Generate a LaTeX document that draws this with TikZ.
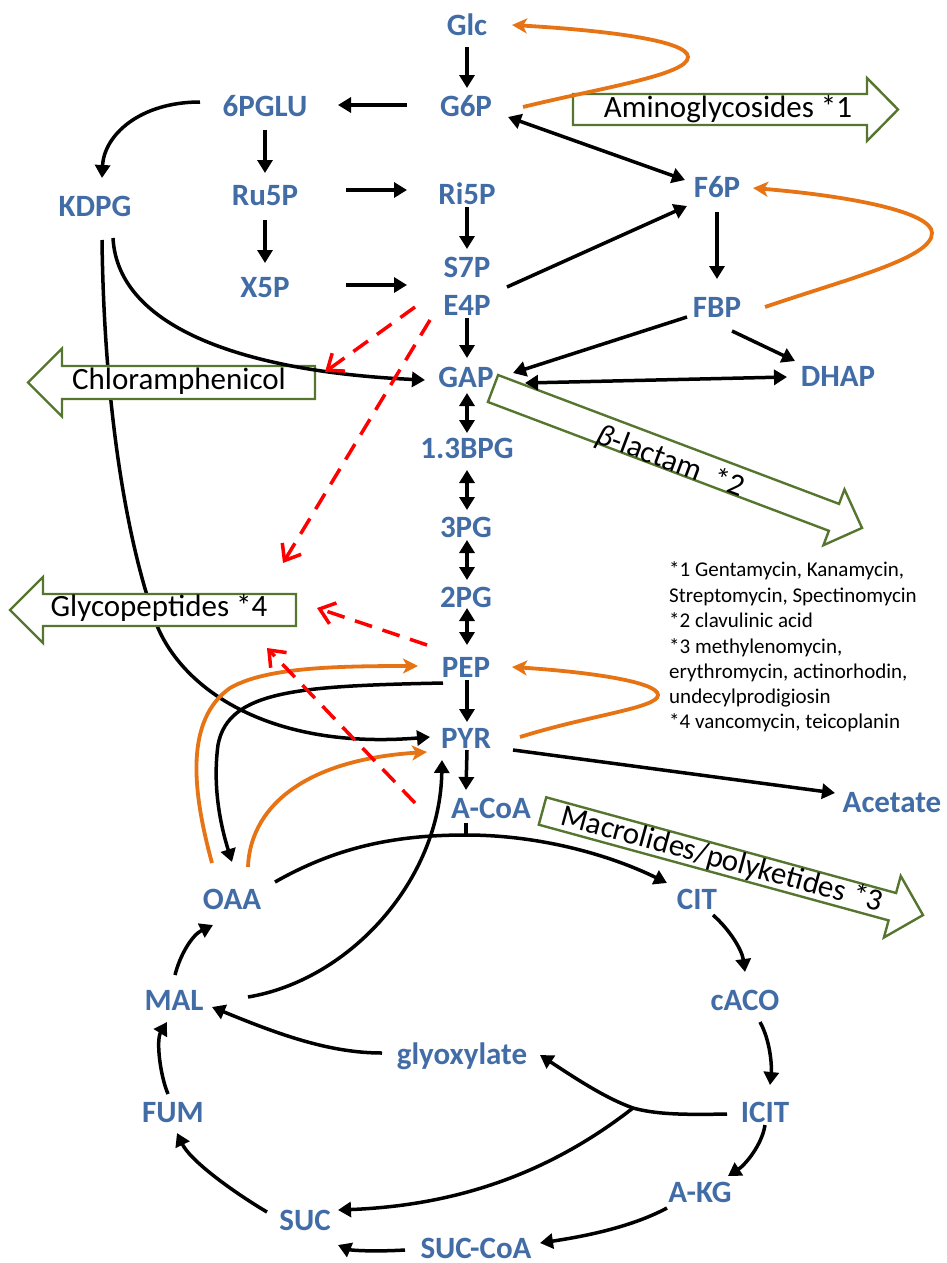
\documentclass[tikz,border=0pt]{standalone}
\usepackage{fontspec}
\setmainfont{Carlito}
\usetikzlibrary{arrows.meta}
\definecolor{mblue}{RGB}{66,108,165}
\definecolor{morange}{RGB}{230,115,20}
\definecolor{mgreen}{RGB}{86,118,48}
\tikzset{
 met/.style={text=mblue, font=\fontsize{31}{31}\selectfont\bfseries, inner sep=0pt, text height=20pt, text depth=0pt},
 conn/.style={line width=3.5pt, -{Triangle[length=13pt,width=15pt]}},
 bconn/.style={line width=3.5pt, {Triangle[length=13pt,width=15pt]}-{Triangle[length=13pt,width=15pt]}},
 plain/.style={line width=3.5pt},
 oconn/.style={line width=3.8pt, draw=morange, -{Stealth[length=15pt,width=15pt,inset=4pt]}},
 rconn/.style={line width=3.5pt, draw=red, dash pattern=on 18pt off 11pt, -{Straight Barb[length=14pt,width=22pt]}},
 boxtxt/.style={font=\fontsize{31}{31}\selectfont, inner sep=0pt},
 fnote/.style={font=\fontsize{21}{25}\selectfont, inner sep=0pt, anchor=base west},
 blk/.style={draw=mgreen, line width=2.4pt, fill=white, line join=miter},
}
\newcommand\blockarrow[7]{%
 \begin{scope}[shift={(#1,#2)},rotate=#3]
   \draw[blk] (0,-#5) -- (#4-#7,-#5) -- (#4-#7,-#6) -- (#4,0) -- (#4-#7,#6) -- (#4-#7,#5) -- (0,#5) -- cycle;
 \end{scope}}
\begin{document}
\begin{tikzpicture}[x=1pt,y=-1pt]
\useasboundingbox (0,0) rectangle (947,1263);
% metabolites
\node[met] (Glc) at (467,26) {Glc};
\node[met] (G6P) at (466,106) {G6P};
\node[met] (PGLU) at (265,106) {6PGLU};
\node[met] (KDPG) at (95,206) {KDPG};
\node[met] (Ru5P) at (265,195) {Ru5P};
\node[met] (Ri5P) at (467,194) {Ri5P};
\node[met] (X5P) at (265,287) {X5P};
\node[met] (S7P) at (467,267) {S7P};
\node[met] (E4P) at (467,305) {E4P};
\node[met] (F6P) at (717,187) {F6P};
\node[met] (FBP) at (717,307) {FBP};
\node[met] (GAP) at (466,377) {GAP};
\node[met] (DHAP) at (838,376) {DHAP};
\node[met] (BPG) at (467,448) {1.3BPG};
\node[met] (PGt) at (466,527) {3PG};
\node[met] (PGd) at (466,597) {2PG};
\node[met] (PEP) at (466,667) {PEP};
\node[met] (PYR) at (466,738) {PYR};
\node[met] (ACoA) at (491,808) {A-CoA};
\node[met] (Acetate) at (892,802) {Acetate};
\node[met] (OAA) at (232,899) {OAA};
\node[met] (CIT) at (697,899) {CIT};
\node[met] (cACO) at (745,1000) {cACO};
\node[met] (MAL) at (174,1000) {MAL};
\node[met] (GLX) at (462,1054) {glyoxylate};
\node[met] (ICIT) at (765,1112) {ICIT};
\node[met] (FUM) at (173,1112) {FUM};
\node[met] (AKG) at (700,1192) {A-KG};
\node[met] (SUC) at (305,1220) {SUC};
\node[met] (SUCCoA) at (476,1248) {SUC-CoA};
% helper coordinates
\coordinate (k1) at (158,628);
\coordinate (p1) at (218,745);
\coordinate (o1) at (230,688);
\coordinate (J) at (466,835);
\coordinate (K) at (633,1108);
\coordinate (g1) at (688,57);
\coordinate (f1) at (932,233);
\coordinate (y1) at (658,695);
\coordinate (r1) at (325,372);
\coordinate (r2) at (283,563);
\coordinate (r3) at (317,608);
\coordinate (r4) at (267,648);
% connector passing behind the boxes
\draw[conn] ([shift={(7,34)}]KDPG.center) .. controls (104,400) and (125,540) .. (k1) .. controls (185,690) and (270,750) .. ([shift={(-36,-1)}]PYR.center);
% block arrows
\blockarrow{573}{109.5}{0}{325}{15.5}{31.5}{31}
\blockarrow{315}{382.5}{180}{287}{16.5}{34}{34}
\blockarrow{296}{610}{180}{286}{16}{33}{33}
\blockarrow{493}{388.5}{-20.7}{394.5}{14.4}{29.8}{30}
\blockarrow{542.5}{811}{-15.3}{394.5}{14.2}{31.9}{31.8}
\node[boxtxt] (tAmino) at (728,109.5) {Aminoglycosides *1};
\node[boxtxt] (tChlor) at (179,381) {Chloramphenicol};
\node[boxtxt] (tGlyco) at (159,607.5) {Glycopeptides *4};
\node[boxtxt, rotate=-20.7] (tBeta) at (670,462) {{\itshape β}-lactam\ \ *2};
\node[boxtxt, rotate=-15.3] (tMacro) at (722,860) {Macrolides/polyketides *3};
% footnotes
\node[fnote] (fn1) at (669,576) {*1 Gentamycin, Kanamycin,};
\node[fnote] (fn2) at (669,602) {Streptomycin, Spectinomycin};
\node[fnote] (fn3) at (669,627) {*2 clavulinic acid};
\node[fnote] (fn4) at (669,653) {*3 methylenomycin,};
\node[fnote] (fn5) at (669,678) {erythromycin, actinorhodin,};
\node[fnote] (fn6) at (669,703) {undecylprodigiosin};
\node[fnote] (fn7) at (669,728) {*4 vancomycin, teicoplanin};
% black connectors
\draw[conn] ([shift={(0,21)}]Glc.center) -- ([shift={(1,-18)}]G6P.center);
\draw[conn] ([shift={(-59,-1)}]G6P.center) -- ([shift={(73,-1)}]PGLU.center);
\draw[conn] ([shift={(-65,-4)}]PGLU.center) .. controls (140,102) and (104,135) .. ([shift={(7,-28)}]KDPG.center);
\draw[conn] ([shift={(0,24)}]PGLU.center) -- ([shift={(0,-22)}]Ru5P.center);
\draw[conn] ([shift={(81,-5)}]Ru5P.center) -- ([shift={(-60,-4)}]Ri5P.center);
\draw[conn] ([shift={(0,25)}]Ru5P.center) -- ([shift={(0,-24)}]X5P.center);
\draw[conn] ([shift={(81,-2)}]X5P.center) -- ([shift={(-60,-20)}]E4P.center);
\draw[conn] ([shift={(0,13)}]Ri5P.center) -- ([shift={(0,-18)}]S7P.center);
\draw[bconn] ([shift={(42,11)}]G6P.center) -- ([shift={(-32,-7)}]F6P.center);
\draw[conn] ([shift={(40,-18)}]E4P.center) -- ([shift={(-30,19)}]F6P.center);
\draw[conn] ([shift={(0,25)}]F6P.center) -- ([shift={(0,-28)}]FBP.center);
\draw[conn] ([shift={(-30,10)}]FBP.center) -- ([shift={(47,-4)}]GAP.center);
\draw[conn] ([shift={(15,24)}]FBP.center) -- ([shift={(-43,-15)}]DHAP.center);
\draw[bconn] ([shift={(59,6)}]GAP.center) -- ([shift={(-51,1)}]DHAP.center);
\draw[conn] ([shift={(0,13)}]E4P.center) -- ([shift={(1,-19)}]GAP.center);
\draw[bconn] ([shift={(1,16)}]GAP.center) -- ([shift={(0,-15)}]BPG.center);
\draw[bconn] ([shift={(0,22)}]BPG.center) -- ([shift={(1,-17)}]PGt.center);
\draw[bconn] ([shift={(1,13)}]PGt.center) -- ([shift={(1,-17)}]PGd.center);
\draw[bconn] ([shift={(1,11)}]PGd.center) -- ([shift={(1,-22)}]PEP.center);
\draw[conn] ([shift={(1,13)}]PEP.center) -- ([shift={(1,-16)}]PYR.center);
\draw[conn] ([shift={(1,12)}]PYR.center) -- ([shift={(-25,-18)}]ACoA.center);
\draw[plain] ([shift={(-25,15)}]ACoA.center) -- (J);
\draw[conn] ([shift={(43,-17)}]OAA.center) .. controls (340,845) and (400,835) .. (J) .. controls (540,835) and (610,855) .. ([shift={(-30,-16)}]CIT.center);
\draw[conn] ([shift={(47,12)}]PYR.center) -- ([shift={(-57,-9)}]Acetate.center);
\draw[conn] ([shift={(18,32)}]KDPG.center) .. controls (118,330) and (250,372) .. ([shift={(-41,3)}]GAP.center);
\draw[conn] ([shift={(-23,16)}]PEP.center) .. controls (300,686) and (228,690) .. (p1) .. controls (212,790) and (222,830) .. ([shift={(0,-37)}]OAA.center);
\draw[conn] ([shift={(74,-3)}]MAL.center) .. controls (350,980) and (440,880) .. ([shift={(-24,22)}]PYR.center);
% TCA / glyoxylate
\draw[conn] ([shift={(16,16)}]CIT.center) .. controls (730,930) and (742,950) .. ([shift={(0,-28)}]cACO.center);
\draw[conn] ([shift={(15,22)}]cACO.center) .. controls (770,1040) and (772,1065) .. ([shift={(5,-27)}]ICIT.center);
\draw[conn] ([shift={(0,13)}]ICIT.center) .. controls (762,1145) and (745,1165) .. ([shift={(28,-16)}]AKG.center);
\draw[conn] ([shift={(-33,16)}]AKG.center) .. controls (630,1228) and (580,1237) .. ([shift={(64,-5)}]SUCCoA.center);
\draw[conn] ([shift={(-38,2)}]ICIT.center) .. controls (680,1115) and (655,1114) .. (K) .. controls (605,1098) and (575,1078) .. ([shift={(78,1)}]GLX.center);
\draw[conn] (K) .. controls (560,1165) and (470,1205) .. ([shift={(33,-10)}]SUC.center);
\draw[conn] ([shift={(-80,-1)}]GLX.center) .. controls (330,1053) and (280,1035) .. ([shift={(38,7)}]MAL.center);
\draw[conn] ([shift={(-71,2)}]SUCCoA.center) .. controls (370,1252) and (350,1250) .. ([shift={(33,25)}]SUC.center);
\draw[conn] ([shift={(-38,-8)}]SUC.center) .. controls (230,1190) and (190,1160) .. ([shift={(4,21)}]FUM.center);
\draw[conn] ([shift={(-5,-18)}]FUM.center) .. controls (160,1075) and (156,1040) .. ([shift={(-7,22)}]MAL.center);
\draw[conn] ([shift={(1,-25)}]MAL.center) .. controls (180,955) and (192,935) .. ([shift={(-19,26)}]OAA.center);
% orange connectors
\draw[oconn] ([shift={(-20,-36)}]OAA.center) .. controls (192,790) and (185,720) .. (o1) .. controls (265,668) and (330,666) .. ([shift={(-48,-1)}]PEP.center);
\draw[oconn] ([shift={(16,-32)}]OAA.center) .. controls (250,810) and (300,760) .. ([shift={(-39,14)}]PYR.center);
\draw[oconn] ([shift={(57,1)}]G6P.center) .. controls (600,88) and (688,75) .. (g1) .. controls (688,40) and (600,30) .. ([shift={(45,-1)}]Glc.center);
\draw[oconn] ([shift={(48,0)}]FBP.center) .. controls (850,278) and (932,258) .. (f1) .. controls (932,212) and (850,196) .. ([shift={(36,1)}]F6P.center);
\draw[oconn] ([shift={(54,-1)}]PYR.center) .. controls (590,715) and (658,708) .. (y1) .. controls (658,682) and (590,672) .. ([shift={(46,0)}]PEP.center);
% red dashed connectors
\draw[rconn] ([shift={(-52,2)}]E4P.center) -- (r1);
\draw[rconn] ([shift={(-37,15)}]E4P.center) -- (r2);
\draw[rconn] ([shift={(-39,-22)}]PEP.center) -- (r3);
\draw[rconn] ([shift={(-76,-5)}]ACoA.center) -- (r4);
\end{tikzpicture}
\end{document}
